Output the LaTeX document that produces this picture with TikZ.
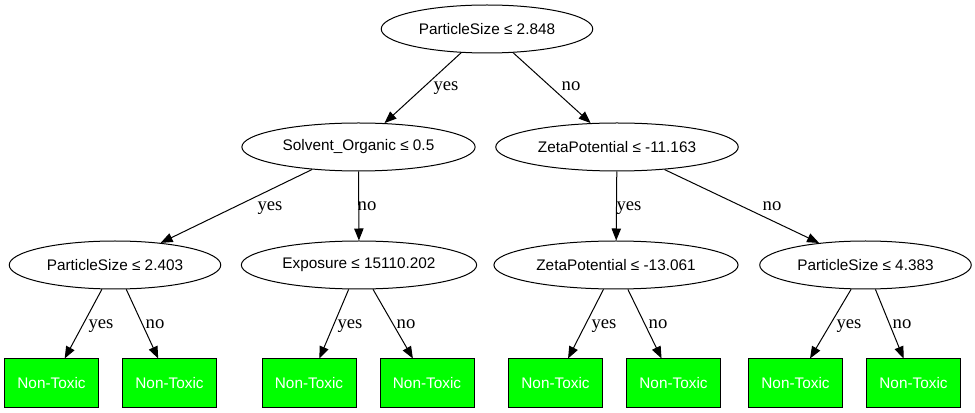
\documentclass[tikz,border=0pt]{standalone}
\usepackage{fontspec}
\setmainfont{Liberation Serif}
\newfontfamily\arialf{Liberation Sans}
\usetikzlibrary{shapes.geometric,arrows.meta}
\definecolor{leafgreen}{RGB}{0,255,0}
\begin{document}
\begin{tikzpicture}[x=0.75pt,y=-0.75pt,line width=0.75pt,>={Triangle[length=9pt,width=7pt]},
    split/.style={draw,ellipse,inner xsep=5pt,minimum height=36pt,font=\arialf\fontsize{11.5}{13}\selectfont},
    leaf/.style={draw,fill=leafgreen,text=white,minimum width=70.5pt,minimum height=36pt,inner sep=0pt,font=\arialf\fontsize{11.5}{13}\selectfont},
    lbl/.style={anchor=base,inner sep=0pt,font=\fontsize{14}{16}\selectfont}]
\useasboundingbox (0,0) rectangle (975,413);
\node[split](root)at(487,29){ParticleSize ≤ 2.848};
\node[split](solv)at(358.5,147){Solvent\_Organic ≤ 0.5};
\node[split](zeta1)at(617,147){ZetaPotential ≤ -11.163};
\node[split](ps1)at(115,265){ParticleSize ≤ 2.403};
\node[split](expo)at(359,265){Exposure ≤ 15110.202};
\node[split](zeta2)at(616,265){ZetaPotential ≤ -13.061};
\node[split](ps2)at(865.5,265){ParticleSize ≤ 4.383};
\node[leaf](l1)at(51.5,383){Non-Toxic};
\node[leaf](l2)at(169.5,383){Non-Toxic};
\node[leaf](l3)at(309,383){Non-Toxic};
\node[leaf](l4)at(427,383){Non-Toxic};
\node[leaf](l5)at(555.5,383){Non-Toxic};
\node[leaf](l6)at(673.5,383){Non-Toxic};
\node[leaf](l7)at(795.5,383){Non-Toxic};
\node[leaf](l8)at(913.5,383){Non-Toxic};
\draw[->](root)--(solv);
\draw[->](root)--(zeta1);
\draw[->](solv)--(ps1);
\draw[->](solv)--(expo);
\draw[->](zeta1)--(zeta2);
\draw[->](zeta1)--(ps2);
\draw[->](ps1)--(l1);
\draw[->](ps1)--(l2);
\draw[->](expo)--(l3);
\draw[->](expo)--(l4);
\draw[->](zeta2)--(l5);
\draw[->](zeta2)--(l6);
\draw[->](ps2)--(l7);
\draw[->](ps2)--(l8);
\node[lbl](y0)at(446,91){yes};
\node[lbl](n0)at(571,91){no};
\node[lbl](y1)at(270,211){yes};
\node[lbl](n1)at(367,211){no};
\node[lbl](y2)at(629,211){yes};
\node[lbl](n2)at(772,211){no};
\node[lbl](y3)at(101,329){yes};
\node[lbl](n3)at(155,329){no};
\node[lbl](y4)at(350,329){yes};
\node[lbl](n4)at(406,329){no};
\node[lbl](y5)at(604,329){yes};
\node[lbl](n5)at(658,329){no};
\node[lbl](y6)at(849,329){yes};
\node[lbl](n6)at(902,329){no};
\end{tikzpicture}
\end{document}
